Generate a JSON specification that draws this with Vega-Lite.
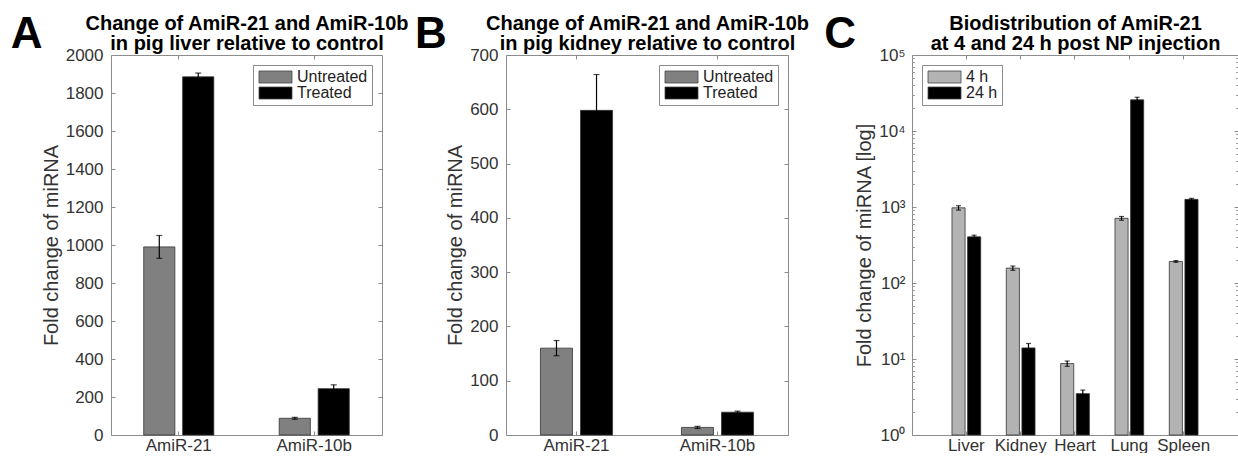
{
  "$schema": "https://vega.github.io/schema/vega-lite/v6.json",
  "padding": {"left": 10, "top": 13, "right": 0, "bottom": 0},
  "spacing": 124,
  "bounds": "flush",
  "resolve": {
    "scale": {"x": "independent", "y": "independent", "color": "independent", "xOffset": "independent"},
    "legend": {"color": "independent"}
  },
  "config": {
    "font": "Liberation Sans",
    "view": {"stroke": null},
    "axis": {
      "grid": false,
      "domainColor": "#8c8c8c",
      "tickColor": "#8c8c8c",
      "tickSize": -4,
      "labelColor": "#333333",
      "labelFontSize": 17,
      "titleColor": "#333333",
      "titleFontSize": 20,
      "titleFontWeight": "normal"
    },
    "legend": {
      "title": null,
      "strokeColor": "#8c8c8c",
      "fillColor": "white",
      "padding": 4,
      "offset": 10,
      "labelFontSize": 16,
      "labelColor": "#222222",
      "labelOffset": 13.5,
      "symbolOffset": 10.5,
      "rowPadding": 0,
      "symbolType": "M-2.75,-1H2.75V1H-2.75Z",
      "symbolSize": 144,
      "symbolStrokeColor": "#444444",
      "symbolStrokeWidth": 0.8
    },
    "title": {
      "orient": "left",
      "anchor": "end",
      "angle": 0,
      "align": "left",
      "baseline": "top",
      "fontSize": 44,
      "fontWeight": "bold",
      "color": "black",
      "offset": -33,
      "frame": "bounds"
    }
  },
  "hconcat": [
    {
      "width": 271,
      "height": 380,
      "title": {"text": "A"},
      "data": {"values": [
        {"cat": "AmiR-21", "grp": "Untreated", "v": 990, "lo": 930, "hi": 1050},
        {"cat": "AmiR-21", "grp": "Treated", "v": 1885, "lo": 1865, "hi": 1905},
        {"cat": "AmiR-10b", "grp": "Untreated", "v": 88, "lo": 83, "hi": 93},
        {"cat": "AmiR-10b", "grp": "Treated", "v": 244, "lo": 224, "hi": 264}
      ]},
      "resolve": {"axis": {"x": "independent", "y": "independent"}},
      "layer": [
        {
          "mark": {"type": "bar", "stroke": "#333333", "strokeWidth": 0.8},
          "encoding": {
            "x": {"field": "cat", "type": "nominal", "sort": ["AmiR-21", "AmiR-10b"], "scale": {"paddingInner": 0, "paddingOuter": 0},
                  "axis": {"orient": "bottom", "title": null, "labelAngle": 0, "labelPadding": 6}},
            "xOffset": {"field": "grp", "sort": ["Untreated", "Treated"], "scale": {"paddingInner": 0.2, "paddingOuter": 0.84}},
            "y": {"field": "v", "type": "quantitative", "scale": {"domain": [0, 2000], "nice": false},
                  "axis": {"orient": "left", "title": "Fold change of miRNA", "format": "d", "values": [0, 200, 400, 600, 800, 1000, 1200, 1400, 1600, 1800, 2000], "labelPadding": 12, "titlePadding": 4}},
            "color": {"field": "grp", "type": "nominal", "scale": {"domain": ["Untreated", "Treated"], "range": ["#808080", "#000000"]},
                      "legend": {"orient": "top-right"}}
          }
        },
        {
          "mark": {"type": "rule", "color": "black", "strokeWidth": 1.2},
          "encoding": {
            "x": {"field": "cat", "type": "nominal", "sort": ["AmiR-21", "AmiR-10b"],
                  "axis": {"orient": "top", "labels": false, "title": ["Change of AmiR-21 and AmiR-10b", "in pig liver relative to control"], "titleFontSize": 20, "titleFontWeight": "bold", "titleColor": "black", "titleLineHeight": 20.5, "titlePadding": 1}},
            "xOffset": {"field": "grp", "sort": ["Untreated", "Treated"]},
            "y": {"field": "lo", "type": "quantitative", "axis": {"orient": "right", "labels": false, "title": null, "values": [0, 200, 400, 600, 800, 1000, 1200, 1400, 1600, 1800, 2000]}},
            "y2": {"field": "hi"}
          }
        },
        {
          "mark": {"type": "tick", "color": "black", "thickness": 1.2, "size": 6, "orient": "horizontal"},
          "encoding": {
            "x": {"field": "cat", "type": "nominal", "sort": ["AmiR-21", "AmiR-10b"], "axis": null},
            "xOffset": {"field": "grp", "sort": ["Untreated", "Treated"]},
            "y": {"field": "hi", "type": "quantitative", "axis": null}
          }
        },
        {
          "mark": {"type": "tick", "color": "black", "thickness": 1.2, "size": 6, "orient": "horizontal"},
          "encoding": {
            "x": {"field": "cat", "type": "nominal", "sort": ["AmiR-21", "AmiR-10b"], "axis": null},
            "xOffset": {"field": "grp", "sort": ["Untreated", "Treated"]},
            "y": {"field": "lo", "type": "quantitative", "axis": null}
          }
        }
      ]
    },
    {
      "width": 282,
      "height": 380,
      "title": {"text": "B"},
      "data": {"values": [
        {"cat": "AmiR-21", "grp": "Untreated", "v": 160, "lo": 146, "hi": 174},
        {"cat": "AmiR-21", "grp": "Treated", "v": 598, "lo": 532, "hi": 664},
        {"cat": "AmiR-10b", "grp": "Untreated", "v": 14, "lo": 12, "hi": 16},
        {"cat": "AmiR-10b", "grp": "Treated", "v": 42, "lo": 40, "hi": 44}
      ]},
      "resolve": {"axis": {"x": "independent", "y": "independent"}},
      "layer": [
        {
          "mark": {"type": "bar", "stroke": "#333333", "strokeWidth": 0.8},
          "encoding": {
            "x": {"field": "cat", "type": "nominal", "sort": ["AmiR-21", "AmiR-10b"], "scale": {"paddingInner": 0, "paddingOuter": 0},
                  "axis": {"orient": "bottom", "title": null, "labelAngle": 0, "labelPadding": 6}},
            "xOffset": {"field": "grp", "sort": ["Untreated", "Treated"], "scale": {"paddingInner": 0.2, "paddingOuter": 0.86}},
            "y": {"field": "v", "type": "quantitative", "scale": {"domain": [0, 700], "nice": false},
                  "axis": {"orient": "left", "title": "Fold change of miRNA", "format": "d", "values": [0, 100, 200, 300, 400, 500, 600, 700], "labelPadding": 12, "titlePadding": 4}},
            "color": {"field": "grp", "type": "nominal", "scale": {"domain": ["Untreated", "Treated"], "range": ["#808080", "#000000"]},
                      "legend": {"orient": "top-right"}}
          }
        },
        {
          "mark": {"type": "rule", "color": "black", "strokeWidth": 1.2},
          "encoding": {
            "x": {"field": "cat", "type": "nominal", "sort": ["AmiR-21", "AmiR-10b"],
                  "axis": {"orient": "top", "labels": false, "title": ["Change of AmiR-21 and AmiR-10b", "in pig kidney relative to control"], "titleFontSize": 20, "titleFontWeight": "bold", "titleColor": "black", "titleLineHeight": 20.5, "titlePadding": 1}},
            "xOffset": {"field": "grp", "sort": ["Untreated", "Treated"]},
            "y": {"field": "lo", "type": "quantitative", "axis": {"orient": "right", "labels": false, "title": null, "values": [0, 100, 200, 300, 400, 500, 600, 700]}},
            "y2": {"field": "hi"}
          }
        },
        {
          "mark": {"type": "tick", "color": "black", "thickness": 1.2, "size": 6, "orient": "horizontal"},
          "encoding": {
            "x": {"field": "cat", "type": "nominal", "sort": ["AmiR-21", "AmiR-10b"], "axis": null},
            "xOffset": {"field": "grp", "sort": ["Untreated", "Treated"]},
            "y": {"field": "hi", "type": "quantitative", "axis": null}
          }
        },
        {
          "mark": {"type": "tick", "color": "black", "thickness": 1.2, "size": 6, "orient": "horizontal"},
          "encoding": {
            "x": {"field": "cat", "type": "nominal", "sort": ["AmiR-21", "AmiR-10b"], "axis": null},
            "xOffset": {"field": "grp", "sort": ["Untreated", "Treated"]},
            "y": {"field": "lo", "type": "quantitative", "axis": null}
          }
        }
      ]
    },
    {
      "width": 326,
      "height": 380,
      "title": {"text": "C"},
      "data": {"values": [
        {"cat": "Liver", "grp": "4 h", "v": 975, "lo": 910, "hi": 1040},
        {"cat": "Liver", "grp": "24 h", "v": 405, "lo": 385, "hi": 425},
        {"cat": "Kidney", "grp": "4 h", "v": 157, "lo": 147, "hi": 167},
        {"cat": "Kidney", "grp": "24 h", "v": 14, "lo": 12.5, "hi": 16},
        {"cat": "Heart", "grp": "4 h", "v": 8.7, "lo": 8, "hi": 9.4},
        {"cat": "Heart", "grp": "24 h", "v": 3.5, "lo": 3.2, "hi": 3.9},
        {"cat": "Lung", "grp": "4 h", "v": 710, "lo": 670, "hi": 750},
        {"cat": "Lung", "grp": "24 h", "v": 25700, "lo": 23600, "hi": 27800},
        {"cat": "Spleen", "grp": "4 h", "v": 192, "lo": 187, "hi": 197},
        {"cat": "Spleen", "grp": "24 h", "v": 1260, "lo": 1220, "hi": 1300}
      ]},
      "resolve": {"axis": {"x": "independent", "y": "independent"}},
      "layer": [
        {
          "mark": {"type": "bar", "stroke": "#333333", "strokeWidth": 0.8},
          "encoding": {
            "x": {"field": "cat", "type": "nominal", "sort": ["Liver", "Kidney", "Heart", "Lung", "Spleen"], "scale": {"paddingInner": 0, "paddingOuter": 0.5},
                  "axis": {"orient": "bottom", "title": null, "labelAngle": 0, "labelPadding": 6}},
            "xOffset": {"field": "grp", "sort": ["4 h", "24 h"], "scale": {"paddingInner": 0.16, "paddingOuter": 0.82}},
            "y": {"field": "v", "type": "quantitative", "scale": {"type": "log", "domain": [1, 100000], "nice": false},
                  "axis": {"orient": "left", "title": "Fold change of miRNA [log]", "values": [1, 10, 100, 1000, 10000, 100000], "labelPadding": 11, "titlePadding": 4,
                           "labelExpr": "datum.value < 5 ? '10⁰' : datum.value < 50 ? '10¹' : datum.value < 500 ? '10²' : datum.value < 5000 ? '10³' : datum.value < 50000 ? '10⁴' : '10⁵'"}},
            "y2": {"datum": 1},
            "color": {"field": "grp", "type": "nominal", "scale": {"domain": ["4 h", "24 h"], "range": ["#b3b3b3", "#000000"]},
                      "legend": {"orient": "top-left"}}
          }
        },
        {
          "mark": {"type": "rule", "color": "black", "strokeWidth": 1.2},
          "encoding": {
            "x": {"field": "cat", "type": "nominal", "sort": ["Liver", "Kidney", "Heart", "Lung", "Spleen"],
                  "axis": {"orient": "top", "labels": false, "title": ["Biodistribution of AmiR-21", "at 4 and 24 h post NP injection"], "titleFontSize": 20, "titleFontWeight": "bold", "titleColor": "black", "titleLineHeight": 20.5, "titlePadding": 1}},
            "xOffset": {"field": "grp", "sort": ["4 h", "24 h"]},
            "y": {"field": "lo", "type": "quantitative", "axis": {"orient": "right", "labels": false, "title": null, "values": [1, 10, 100, 1000, 10000, 100000]}},
            "y2": {"field": "hi"}
          }
        },
        {
          "mark": {"type": "tick", "color": "black", "thickness": 1.2, "size": 5, "orient": "horizontal"},
          "encoding": {
            "x": {"field": "cat", "type": "nominal", "sort": ["Liver", "Kidney", "Heart", "Lung", "Spleen"], "axis": null},
            "xOffset": {"field": "grp", "sort": ["4 h", "24 h"]},
            "y": {"field": "hi", "type": "quantitative",
                  "axis": {"orient": "left", "labels": false, "title": null, "domain": false, "tickSize": -2.5, "tickColor": "#a0a0a0",
                           "values": [2, 3, 4, 5, 6, 7, 8, 9, 20, 30, 40, 50, 60, 70, 80, 90, 200, 300, 400, 500, 600, 700, 800, 900, 2000, 3000, 4000, 5000, 6000, 7000, 8000, 9000, 20000, 30000, 40000, 50000, 60000, 70000, 80000, 90000]}}
          }
        },
        {
          "mark": {"type": "tick", "color": "black", "thickness": 1.2, "size": 5, "orient": "horizontal"},
          "encoding": {
            "x": {"field": "cat", "type": "nominal", "sort": ["Liver", "Kidney", "Heart", "Lung", "Spleen"], "axis": null},
            "xOffset": {"field": "grp", "sort": ["4 h", "24 h"]},
            "y": {"field": "lo", "type": "quantitative",
                  "axis": {"orient": "right", "labels": false, "title": null, "domain": false, "tickSize": -2.5, "tickColor": "#a0a0a0",
                           "values": [2, 3, 4, 5, 6, 7, 8, 9, 20, 30, 40, 50, 60, 70, 80, 90, 200, 300, 400, 500, 600, 700, 800, 900, 2000, 3000, 4000, 5000, 6000, 7000, 8000, 9000, 20000, 30000, 40000, 50000, 60000, 70000, 80000, 90000]}}
          }
        }
      ]
    }
  ]
}
